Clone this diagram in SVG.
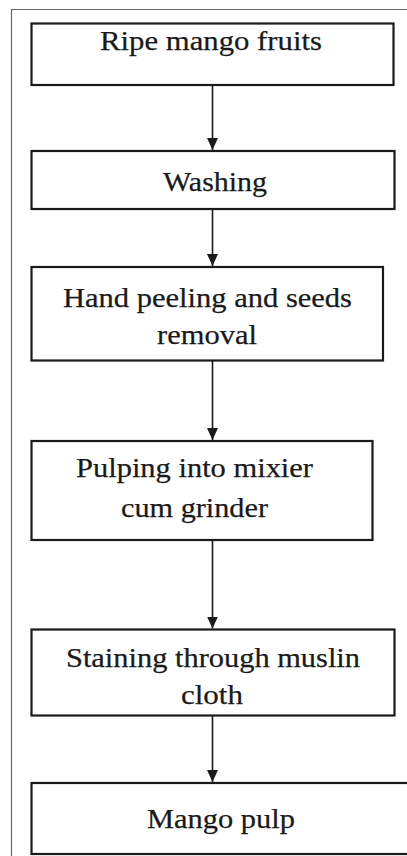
<svg xmlns="http://www.w3.org/2000/svg" width="407" height="856" viewBox="0 0 407 856">
<style>
.box{fill:#fff;stroke:#1a1a1a;stroke-width:2.2}
.t{font-family:"Liberation Serif","Times New Roman",serif;font-size:28px;fill:#1a1a1a;stroke:#1a1a1a;stroke-width:0.25;text-anchor:middle}
.c{stroke:#1a1a1a;stroke-width:1.6;fill:none}
.frame{fill:none;stroke:#666;stroke-width:1.2}
</style>
<defs>
<marker id="down" markerUnits="userSpaceOnUse" markerWidth="12" markerHeight="13" refX="6" refY="12" orient="0" viewBox="0 0 12 13">
<path d="M0.5,0 L11.5,0 L6,12 Z" fill="#1a1a1a"/>
</marker>
</defs>
<rect width="407" height="856" fill="#fff"/>
<path class="frame" d="M11.5,856 V9.5 H407"/>
<g id="connectors">
<line class="c" x1="212.5" y1="86" x2="212.5" y2="150" marker-end="url(#down)"/>
<line class="c" x1="212.5" y1="210" x2="212.5" y2="266" marker-end="url(#down)"/>
<line class="c" x1="212.5" y1="361" x2="212.5" y2="440" marker-end="url(#down)"/>
<line class="c" x1="212.5" y1="541" x2="212.5" y2="628.5" marker-end="url(#down)"/>
<line class="c" x1="212.5" y1="716" x2="212.5" y2="782" marker-end="url(#down)"/>
</g>
<g id="n1">
<rect class="box" x="31.5" y="23.5" width="362" height="61.5"/>
<text class="t" x="211" y="50" textLength="222" lengthAdjust="spacingAndGlyphs">Ripe mango fruits</text>
</g>
<g id="n2">
<rect class="box" x="31.5" y="151" width="363" height="58"/>
<text class="t" x="215" y="190.5" textLength="104" lengthAdjust="spacingAndGlyphs">Washing</text>
</g>
<g id="n3">
<rect class="box" x="31.5" y="267" width="351.5" height="93.5"/>
<text class="t" x="207.5" y="307" textLength="289" lengthAdjust="spacingAndGlyphs">Hand peeling and seeds</text>
<text class="t" x="207" y="344" textLength="100" lengthAdjust="spacingAndGlyphs">removal</text>
</g>
<g id="n4">
<rect class="box" x="31.5" y="441" width="341" height="99"/>
<text class="t" x="194.5" y="477" textLength="237" lengthAdjust="spacingAndGlyphs">Pulping into mixier</text>
<text class="t" x="194.5" y="517" textLength="147" lengthAdjust="spacingAndGlyphs">cum grinder</text>
</g>
<g id="n5">
<rect class="box" x="31.5" y="629.5" width="363" height="86"/>
<text class="t" x="213" y="667" textLength="294" lengthAdjust="spacingAndGlyphs">Staining through muslin</text>
<text class="t" x="212" y="704" textLength="62" lengthAdjust="spacingAndGlyphs">cloth</text>
</g>
<g id="n6">
<rect class="box" x="31.5" y="783" width="400" height="71"/>
<text class="t" x="221" y="828" textLength="148" lengthAdjust="spacingAndGlyphs">Mango pulp</text>
</g>
</svg>
